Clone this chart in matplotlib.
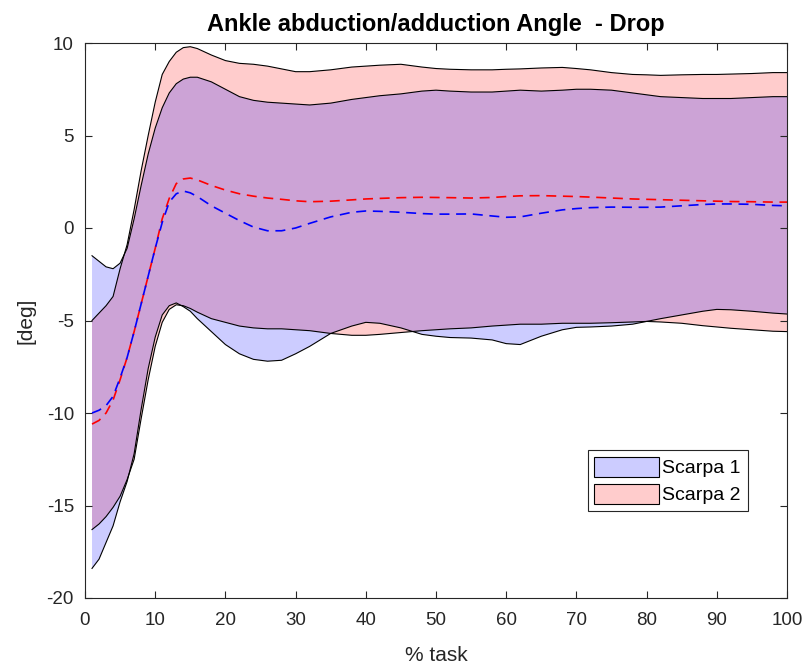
import numpy as np
import matplotlib
matplotlib.use('Agg')
from matplotlib import pyplot as plt
from matplotlib.patches import Patch

# % task sample points
x = [1, 2, 3, 4, 5, 6, 7, 8, 9, 10, 11, 12, 13, 14, 15, 16, 18, 20, 22, 24,
     26, 28, 30, 32, 35, 38, 40, 42, 45, 48, 50, 52, 55, 58, 60, 62, 65, 68,
     70, 72, 75, 78, 80, 82, 85, 88, 90, 92, 95, 98, 100]

# Scarpa 1 (blue band)
s1_hi = [-1.5, -1.8, -2.1, -2.2, -1.9, -1.1, 0.5, 2.3, 4.0, 5.4, 6.5, 7.3,
         7.8, 8.05, 8.15, 8.15, 7.9, 7.5, 7.1, 6.9, 6.8, 6.75, 6.7, 6.65,
         6.75, 6.95, 7.05, 7.15, 7.25, 7.4, 7.45, 7.4, 7.35, 7.35, 7.4, 7.45,
         7.4, 7.45, 7.5, 7.5, 7.45, 7.3, 7.2, 7.1, 7.05, 7.0, 7.0, 7.0, 7.05,
         7.1, 7.1]
s1_lo = [-18.4, -17.9, -17.0, -16.1, -14.8, -13.7, -12.2, -9.8, -7.6, -5.9,
         -4.7, -4.2, -4.05, -4.25, -4.5, -4.9, -5.6, -6.3, -6.8, -7.1, -7.2,
         -7.15, -6.8, -6.4, -5.7, -5.3, -5.1, -5.15, -5.4, -5.75, -5.85,
         -5.92, -5.95, -6.05, -6.25, -6.3, -5.85, -5.5, -5.37, -5.35, -5.3,
         -5.2, -5.05, -4.9, -4.7, -4.5, -4.4, -4.42, -4.5, -4.6, -4.65]
s1_mean = [-10.0, -9.85, -9.6, -9.1, -8.1, -7.0, -5.6, -4.1, -2.6, -1.1, 0.3,
           1.4, 1.85, 2.0, 1.9, 1.7, 1.2, 0.8, 0.4, 0.05, -0.15, -0.15, 0.0,
           0.25, 0.6, 0.85, 0.92, 0.9, 0.85, 0.78, 0.75, 0.75, 0.76, 0.65,
           0.58, 0.6, 0.8, 0.98, 1.05, 1.1, 1.13, 1.12, 1.12, 1.13, 1.2, 1.27,
           1.3, 1.3, 1.28, 1.22, 1.2]

# Scarpa 2 (red band)
s2_hi = [-5.0, -4.6, -4.2, -3.7, -2.2, -0.9, 1.0, 3.1, 5.0, 6.8, 8.3, 9.0,
         9.5, 9.75, 9.8, 9.7, 9.35, 9.05, 8.9, 8.85, 8.75, 8.6, 8.45, 8.45,
         8.55, 8.7, 8.75, 8.8, 8.85, 8.7, 8.62, 8.58, 8.55, 8.55, 8.58, 8.6,
         8.65, 8.68, 8.62, 8.55, 8.4, 8.3, 8.28, 8.25, 8.28, 8.3, 8.3, 8.32,
         8.35, 8.4, 8.4]
s2_lo = [-16.3, -16.0, -15.6, -15.1, -14.5, -13.6, -12.5, -10.3, -8.2, -6.4,
         -5.1, -4.4, -4.15, -4.2, -4.35, -4.55, -4.9, -5.1, -5.3, -5.4, -5.45,
         -5.45, -5.5, -5.55, -5.7, -5.8, -5.8, -5.75, -5.65, -5.55, -5.5,
         -5.45, -5.4, -5.3, -5.25, -5.2, -5.2, -5.15, -5.15, -5.15, -5.12,
         -5.08, -5.05, -5.08, -5.15, -5.28, -5.35, -5.42, -5.5, -5.58, -5.6]
s2_mean = [-10.6, -10.4, -10.0, -9.3, -8.2, -7.0, -5.6, -4.1, -2.6, -1.1, 0.5,
           1.6, 2.4, 2.65, 2.7, 2.6, 2.3, 2.05, 1.85, 1.72, 1.62, 1.55, 1.47,
           1.42, 1.45, 1.52, 1.57, 1.6, 1.64, 1.66, 1.65, 1.64, 1.62, 1.65,
           1.7, 1.74, 1.75, 1.72, 1.7, 1.67, 1.62, 1.57, 1.55, 1.53, 1.5, 1.47,
           1.45, 1.43, 1.42, 1.4, 1.4]

labels = ['Scarpa 1', 'Scarpa 2']

plt.rcParams['font.family'] = ['Liberation Sans', 'DejaVu Sans']
plt.rcParams['axes.unicode_minus'] = False

fig = plt.figure(figsize=(8.08, 6.69), dpi=100)
ax = fig.add_axes([85/808, 1-598/669, 702/808, 555/669])

# red band first, blue on top (alpha blending gives the purple overlap)
ax.fill_between(x, s2_lo, s2_hi, facecolor='red', alpha=0.2, linewidth=0)
ax.plot(x, s2_hi, color='black', lw=0.8)
ax.plot(x, s2_lo, color='black', lw=0.8)
ax.plot(x, s2_mean, color='red', ls=(0, (6, 4)), lw=1.2)
ax.fill_between(x, s1_lo, s1_hi, facecolor='blue', alpha=0.2, linewidth=0)
ax.plot(x, s1_hi, color='black', lw=0.8)
ax.plot(x, s1_lo, color='black', lw=0.8)
ax.plot(x, s1_mean, color='blue', ls=(0, (6, 4)), lw=1.2)

ax.set_xlim(0, 100)
ax.set_ylim(-20, 10)
ax.set_xticks(np.arange(0, 101, 10))
ax.set_yticks(np.arange(-20, 11, 5))
ax.tick_params(direction='in', top=True, right=True, length=5,
               labelsize=13.5, colors='#262626', width=0.8)
ax.tick_params(axis='x', pad=10)
ax.tick_params(axis='y', pad=8)
for sp in ax.spines.values():
    sp.set_color('#262626')
    sp.set_linewidth(0.8)

ax.set_title('Ankle abduction/adduction Angle  - Drop', fontsize=17,
             fontweight='bold', pad=9)
ax.set_xlabel('% task', fontsize=15, color='#262626', labelpad=12)
ax.set_ylabel('[deg]', fontsize=15, color='#262626', labelpad=8)

handles = [Patch(facecolor='#ccccff', edgecolor='black', lw=0.8),
           Patch(facecolor='#ffcccc', edgecolor='black', lw=0.8)]
leg = ax.legend(handles, labels, loc='upper left', bbox_to_anchor=(0.716, 0.267),
                fontsize=14, fancybox=False, framealpha=1, edgecolor='#262626',
                handlelength=3.3, handleheight=1.2, handletextpad=0.2,
                borderpad=0.35, labelspacing=0.35, borderaxespad=0)
leg.get_frame().set_linewidth(0.8)

fig.savefig('out.png', dpi=100)
